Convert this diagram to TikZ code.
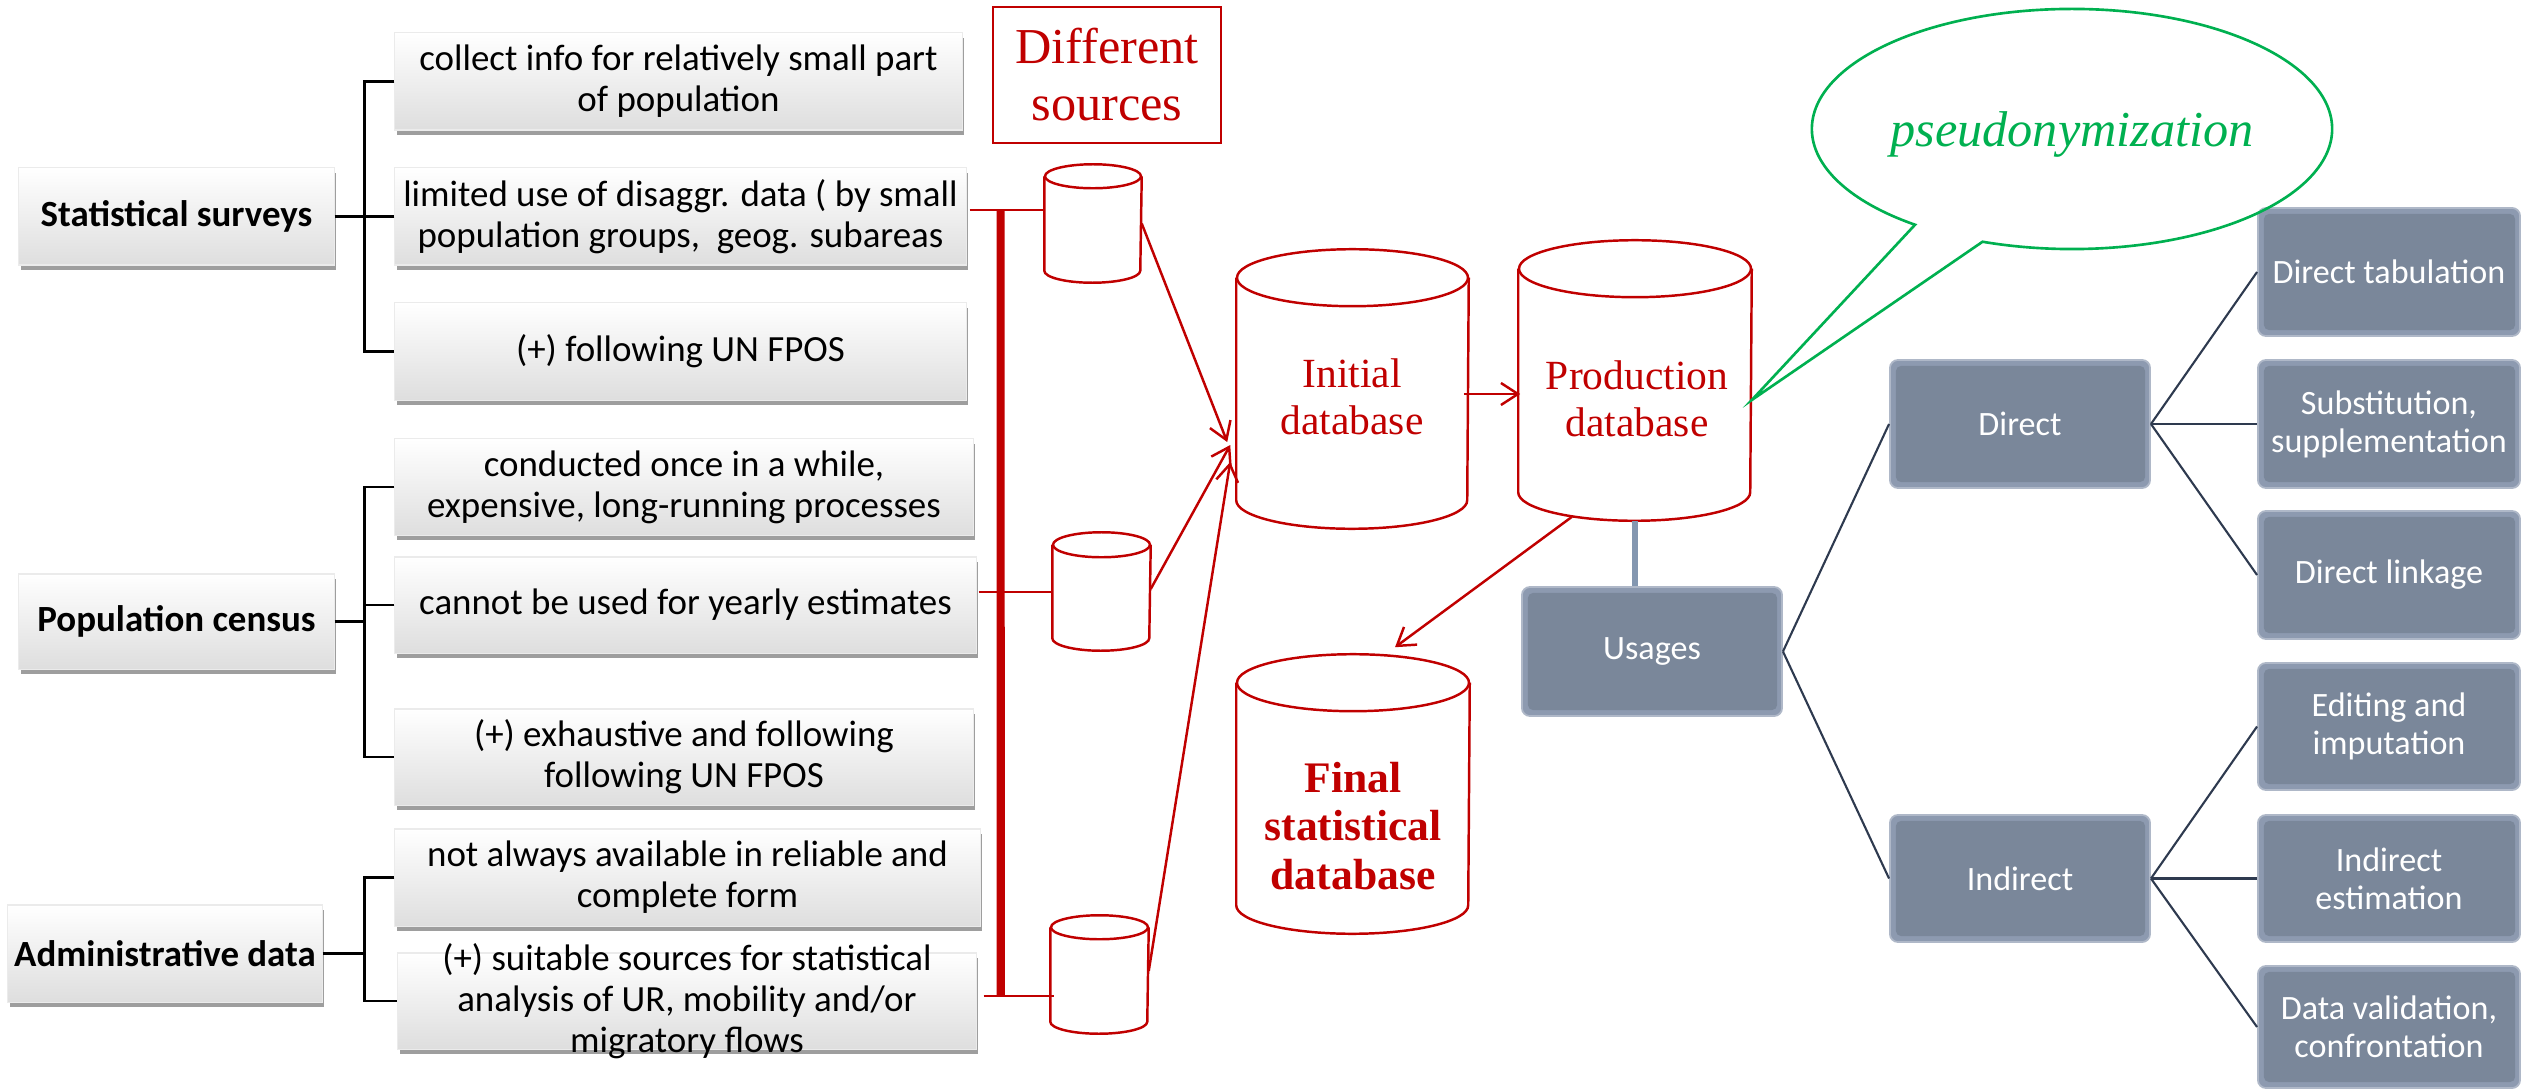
\documentclass[tikz,border=0pt]{standalone}
\usepackage{fontspec}
\setmainfont{Carlito}
\newfontfamily\rserif{Liberation Serif}
\usetikzlibrary{shapes.callouts,shadows,arrows.meta,calc}
\definecolor{dred}{HTML}{C00000}
\definecolor{bgreen}{HTML}{00B050}
\definecolor{boxmain}{HTML}{7A879A}
\definecolor{boxrim}{HTML}{8D9AB0}
\definecolor{treeline}{HTML}{2E3A4F}
\definecolor{stemcol}{HTML}{8497B0}
\newcommand\cylout[3]{%
  \draw[cylline] ($(#1.north)+(0,#3)$) ellipse (#2 and #3);
  \draw[cylline] ($(#1.north west)+(0,#3)$) -- ($(#1.south west)+(0,-#3)$) arc (180:0:#2 and #3) -- ($(#1.north east)+(0,#3)$);
}
\begin{document}
\begin{tikzpicture}[x=0.01cm,y=-0.01cm,
  lbox/.style={rectangle, inner sep=0pt, align=center, top color=white, bottom color=black!13, draw=black!8, line width=0.3pt, font=\fontsize{10.5}{11.7}\selectfont, drop shadow={shadow xshift=0.02cm, shadow yshift=-0.05cm, fill=black, opacity=0.38}},
  hbox/.style={lbox, font=\fontsize{10.5}{11.7}\selectfont\bfseries},
  tree/.style={line width=0.75pt, black},
  thinred/.style={dred, line width=0.5pt},
  busred/.style={dred, line width=2.3pt},
  cylbox/.style={rectangle, inner sep=0pt, draw=none},
  cylline/.style={dred, line width=0.7pt},
  rarrow/.style={dred, line width=0.7pt, -{Straight Barb[length=1.7mm,width=2.2mm]}},
  rtext/.style={text=dred, align=center, inner sep=0pt},
  gbox/.style={rectangle, rounded corners=0.08cm, fill=boxrim, draw=boxrim!70!white, line width=0.5pt, inner sep=0pt, align=center, text=white, font=\fontsize{9.7}{10.8}\selectfont,
    path picture={\fill[boxmain, rounded corners=0.05cm] ([shift={(0.06cm,-0.06cm)}]path picture bounding box.north west) rectangle ([shift={(-0.05cm,0.06cm)}]path picture bounding box.south east);}},
  glink/.style={treeline, line width=0.6pt},
]
\useasboundingbox (0,0) rectangle (2526,1091);

% ---------- left column ----------
\node[hbox, minimum width=3.15cm, minimum height=0.97cm] (ss) at (176.5,216.5) {Statistical surveys};
\node[lbox, minimum width=5.67cm, minimum height=0.97cm] (b1) at (678.5,81.5) {collect info for relatively small part\\of population};
\node[lbox, minimum width=5.71cm, minimum height=0.97cm] (b2) at (680.5,216.5) {limited use of disaggr. data ( by small\\population groups,~ geog. subareas};
\node[lbox, minimum width=5.71cm, minimum height=0.97cm] (b3) at (680.5,351.5) {(+) following UN FPOS};

\node[hbox, minimum width=3.15cm, minimum height=0.95cm] (pc) at (176.5,621.5) {Population census};
\node[lbox, minimum width=5.78cm, minimum height=0.96cm] (b4) at (684,487) {conducted once in a while,\\expensive, long-running processes};
\node[lbox, minimum width=5.81cm, minimum height=0.96cm] (b5) at (685.5,605) {cannot be used for yearly estimates};
\node[lbox, minimum width=5.78cm, minimum height=0.96cm] (b6) at (684,757) {(+) exhaustive and following\\following UN FPOS};

\node[hbox, minimum width=3.14cm, minimum height=0.97cm] (ad) at (165,953.5) {Administrative data};
\node[lbox, minimum width=5.85cm, minimum height=0.97cm] (b7) at (687.5,877.5) {not always available in reliable and\\complete form};
\node[lbox, minimum width=5.78cm, minimum height=0.96cm] (b8) at (687,1001) {};
\node[align=center, inner sep=0pt, font=\fontsize{10.5}{11.7}\selectfont] (b8t) at (b8) {(+) suitable sources for statistical\\analysis of UR, mobility and/or\\migratory flows};

% brackets
\draw[tree] (b1.west) -- ++(-30,0) coordinate (j1) |- (b3.west);
\draw[tree] (b2.west) -- (b2.west -| j1);
\draw[tree] (ss.east) -- (ss.east -| j1);
\draw[tree] (b4.west) -- ++(-30,0) coordinate (k1) |- (b6.west);
\draw[tree] (b5.west) -- (b5.west -| k1);
\draw[tree] (pc.east) -- (pc.east -| k1);
\draw[tree] (b7.west) -- ++(-30,0) coordinate (m1) |- (b8.west);
\draw[tree] (ad.east) -- (ad.east -| m1);

% ---------- sources ----------
\node[draw=dred, line width=0.6pt, minimum width=2.28cm, minimum height=1.36cm, rtext, font=\rserif\fontsize{14.3}{16.2}\selectfont] (src) at (1107,75) {Different\\sources};

\node[cylbox, minimum width=0.96cm, minimum height=1.17cm] (cyl1) at (1093,223.5) {};
\node[cylbox, minimum width=0.97cm, minimum height=1.17cm] (cyl2) at (1101.5,591.5) {};
\node[cylbox, minimum width=0.97cm, minimum height=1.17cm] (cyl3) at (1099.5,974.5) {};
\cylout{cyl1}{48}{12}
\cylout{cyl2}{48.5}{12.5}
\cylout{cyl3}{48.5}{12}

\draw[thinred] ([xshift=0.03cm,yshift=0.065cm]b2.east) coordinate (r1) -- (cyl1.west |- r1);
\draw[thinred] ([xshift=0.02cm,yshift=0.13cm]b5.east) coordinate (r2) -- (cyl2.west |- r2);
\draw[thinred] ([xshift=0.07cm,yshift=0.05cm]b8.east) coordinate (r3) -- ($(cyl3.west |- r3)+(4,0)$);
\draw[busred] ($(r1)+(31,0)$) -- ($(r3)+(17,0)$);

% ---------- databases ----------
\node[cylbox, minimum width=2.31cm, minimum height=2.78cm] (ini) at (1352.5,389) {};
\node[cylbox, minimum width=2.32cm, minimum height=2.79cm] (prod) at (1635,380.5) {};
\node[cylbox, minimum width=2.32cm, minimum height=2.78cm] (fin) at (1353,794) {};
\cylout{ini}{115.5}{28.5}
\cylout{prod}{116}{28.5}
\cylout{fin}{116}{28.5}
\node[rtext, font=\rserif\fontsize{11.8}{13.4}\selectfont] (init) at (1352,397) {Initial\\database};
\node[rtext, font=\rserif\fontsize{11.8}{13.4}\selectfont] (prodt) at (1637,399) {Production\\database};
\node[rtext, font=\rserif\bfseries\fontsize{12.4}{13.7}\selectfont] (fint) at (1353,826) {Final\\statistical\\database};

\draw[rarrow] (cyl1.east) -- ([xshift=-0.09cm,yshift=-0.53cm]ini.west);
\draw[rarrow] ([yshift=0.025cm]cyl2.east) -- ([xshift=-0.06cm,yshift=-0.56cm]ini.west);
\draw[rarrow] ([yshift=0.035cm]cyl3.east) -- ([xshift=-0.06cm,yshift=-0.73cm]ini.west);
\draw[rarrow] ([xshift=-0.05cm,yshift=-0.05cm]ini.east) coordinate (a1) -- ($(a1 -| prod.west)+(2,0)$);
\draw[rarrow] ([xshift=-0.63cm,yshift=0.04cm]prod.south) -- ([xshift=0.42cm,yshift=0.07cm]fin.north);

% ---------- usages ----------
\node[gbox, minimum width=2.6cm, minimum height=1.29cm] (usg) at (1652,651.5) {Usages};
\node[gbox, minimum width=2.6cm, minimum height=1.28cm] (dir) at (2020,424) {Direct};
\node[gbox, minimum width=2.6cm, minimum height=1.27cm] (ind) at (2020,878.5) {Indirect};
\node[gbox, minimum width=2.62cm, minimum height=1.28cm] (dt) at (2389,272) {Direct tabulation};
\node[gbox, minimum width=2.62cm, minimum height=1.28cm] (sub) at (2389,424) {Substitution,\\supplementation};
\node[gbox, minimum width=2.62cm, minimum height=1.28cm] (dl) at (2389,575) {Direct linkage};
\node[gbox, minimum width=2.62cm, minimum height=1.27cm] (ei) at (2389,726.5) {Editing and\\imputation};
\node[gbox, minimum width=2.62cm, minimum height=1.27cm] (ie) at (2389,878.5) {Indirect\\estimation};
\node[gbox, minimum width=2.62cm, minimum height=1.22cm] (dv) at (2389,1027) {Data validation,\\confrontation};

\draw[stemcol, line width=1.7pt] (prod.south) -- (prod.south |- usg.north);
\draw[glink] (usg.east) -- (dir.west);
\draw[glink] (usg.east) -- (ind.west);
\draw[glink] (dir.east) -- (dt.west);
\draw[glink] (dir.east) -- (sub.west);
\draw[glink] (dir.east) -- (dl.west);
\draw[glink] (ind.east) -- (ei.west);
\draw[glink] (ind.east) -- (ie.west);
\draw[glink] (ind.east) -- (dv.west);

% ---------- bubble ----------
\node[ellipse callout, draw=bgreen, line width=0.75pt, minimum width=5.2cm, minimum height=2.4cm, inner sep=0pt,
  callout absolute pointer={([yshift=-0.195cm]prod.east)}, callout pointer arc=17,
  text=bgreen, font=\rserif\itshape\fontsize{14.3}{17}\selectfont] (bub) at (2072,129) {\raisebox{-0.05cm}[\height][\depth]{pseudonymization}};
\end{tikzpicture}
\end{document}
